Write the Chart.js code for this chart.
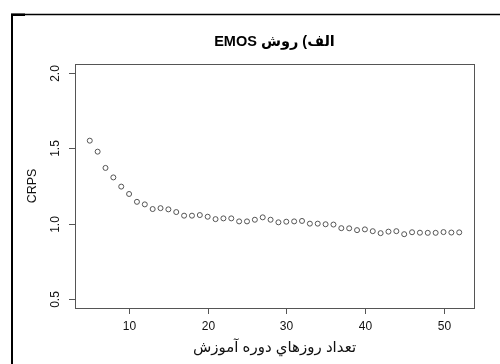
<!DOCTYPE html>
<html>
<head>
<meta charset="utf-8">
<script src="https://cdn.jsdelivr.net/npm/chart.js@4/dist/chart.umd.min.js"></script>
<style>
  html, body { margin: 0; padding: 0; background: #fff; }
  canvas { display: block; }
</style>
</head>
<body>
<canvas id="c" width="500" height="364"></canvas>
<script>
const days = [5,6,7,8,9,10,11,12,13,14,15,16,17,18,19,20,21,22,23,24,25,26,27,28,29,30,31,32,33,34,35,36,37,38,39,40,41,42,43,44,45,46,47,48,49,50,51,52];
const crps = [1.551,1.478,1.370,1.307,1.246,1.197,1.145,1.128,1.097,1.103,1.095,1.077,1.053,1.053,1.057,1.046,1.030,1.035,1.035,1.015,1.015,1.026,1.042,1.026,1.009,1.013,1.015,1.018,1.000,1.000,0.996,0.994,0.970,0.969,0.957,0.962,0.950,0.937,0.947,0.950,0.930,0.943,0.940,0.939,0.939,0.944,0.941,0.942];
const xTicks = [10,20,30,40,50];
const yTicks = [0.5,1.0,1.5,2.0];
const yTickLabels = ["0.5","1.0","1.5","2.0"];
const titleText = "الف) روش EMOS";
const xTitle = "تعداد روزهاي دوره آموزش";
const yTitle = "CRPS";

const FONT = '"Liberation Sans", "DejaVu Sans", Arial, sans-serif';

const rAxes = {
  id: 'rAxes',
  beforeDraw(chart) {
    const ctx = chart.ctx;
    ctx.save();
    ctx.fillStyle = '#fff';
    ctx.fillRect(0, 0, chart.width, chart.height);
    // outer frame
    ctx.strokeStyle = '#000';
    ctx.lineWidth = 2;
    ctx.beginPath();
    ctx.moveTo(12, 364);
    ctx.lineTo(12, 14.5);
    ctx.stroke();
    ctx.lineWidth = 1.3;
    ctx.beginPath();
    ctx.moveTo(11, 14.5);
    ctx.lineTo(500, 14.5);
    ctx.stroke();
    ctx.fillStyle = '#000';
    ctx.fillRect(11, 13.5, 14, 2.5);
    ctx.restore();
  },
  afterDraw(chart) {
    const ctx = chart.ctx;
    const a = chart.chartArea;
    const xs = chart.scales.x, ys = chart.scales.y;
    ctx.save();
    // plot box
    ctx.strokeStyle = '#555';
    ctx.lineWidth = 1;
    ctx.strokeRect(Math.round(a.left) + 0.5, Math.round(a.top) + 0.5,
                   Math.round(a.right - a.left), Math.round(a.bottom - a.top));
    // x ticks
    ctx.fillStyle = '#111';
    ctx.font = '12px ' + FONT;
    ctx.textAlign = 'center';
    ctx.textBaseline = 'middle';
    xTicks.forEach(v => {
      const px = Math.round(xs.getPixelForValue(v)) + 0.5;
      ctx.beginPath();
      ctx.moveTo(px, a.bottom);
      ctx.lineTo(px, a.bottom + 6);
      ctx.stroke();
      ctx.fillText(String(v), px, a.bottom + 19);
    });
    // y ticks (rotated labels, R style)
    yTicks.forEach((v, i) => {
      const py = Math.round(ys.getPixelForValue(v)) + 0.5;
      ctx.beginPath();
      ctx.moveTo(a.left, py);
      ctx.lineTo(a.left - 6, py);
      ctx.stroke();
      ctx.save();
      ctx.translate(a.left - 19, py);
      ctx.rotate(-Math.PI / 2);
      ctx.fillText(yTickLabels[i], 0, 0);
      ctx.restore();
    });
    // y title
    ctx.save();
    ctx.translate(33, (a.top + a.bottom) / 2);
    ctx.rotate(-Math.PI / 2);
    ctx.font = '12.5px ' + FONT;
    ctx.fillText(yTitle, 0, 0);
    ctx.restore();
    // x title
    ctx.font = '15px ' + FONT;
    ctx.direction = 'rtl';
    ctx.textAlign = 'center';
    ctx.fillText(xTitle, (a.left + a.right) / 2, a.bottom + 40);
    // main title
    ctx.font = 'bold 14.5px ' + FONT;
    ctx.fillStyle = '#000';
    ctx.fillText(titleText, (a.left + a.right) / 2, 42);
    ctx.restore();
  }
};

new Chart(document.getElementById('c'), {
  type: 'scatter',
  data: {
    datasets: [{
      data: days.map((d, i) => ({ x: d, y: crps[i] })),
      pointStyle: 'circle',
      pointRadius: 2.5,
      pointHoverRadius: 2.5,
      borderWidth: 1,
      borderColor: '#555',
      backgroundColor: 'rgba(0,0,0,0)'
    }]
  },
  options: {
    responsive: false,
    animation: false,
    devicePixelRatio: 1,
    layout: { padding: { left: 75, top: 64, right: 26, bottom: 56 } },
    plugins: { legend: { display: false }, title: { display: false }, tooltip: { enabled: false } },
    scales: {
      x: { type: 'linear', display: false, min: 3.12, max: 53.88 },
      y: { type: 'linear', display: false, min: 0.44, max: 2.06 }
    }
  },
  plugins: [rAxes]
});
</script>
</body>
</html>
